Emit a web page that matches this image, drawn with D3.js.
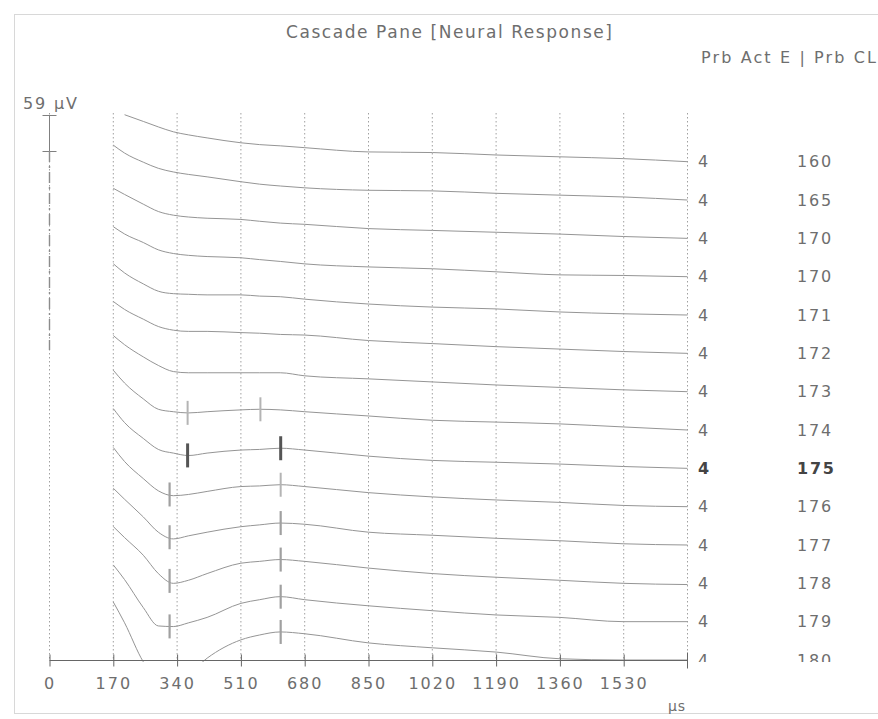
<!DOCTYPE html>
<html><head><meta charset="utf-8">
<script src="https://cdn.jsdelivr.net/npm/d3@7"></script>
<style>
body{margin:0;background:#fff}
svg{display:block}
text{font-family:"DejaVu Sans",sans-serif;fill:#6e6e6e}
</style>
</head><body>
<svg id="chart" width="878" height="719"></svg>
<script>
// ---- data ----
const times = [170,200,250,290,330,370,420,510,560,615,680,850,1020,1190,1360,1530,1700]; // µs
const probeCL   = ["160","165","170","170","171","172","173","174","175","176","177","178","179","180"];
const probeActE = ["4","4","4","4","4","4","4","4","4","4","4","4","4","4"];
const boldRow = 8; // row "175"
// amplitudes in µV at each time (positive = up)
const tr160  = [null,77,66,57,49,44,39,31,28,26,23,16,15,11,8,5,0];
const tr165  = [90,77,62,52,46,42,38,30,26,23,20,16,15,11,8,5,0];
const tr170a = [82,72,56,44,38,35,33,31,28,25,23,16,13,10,7,3,0];
const tr170b = [82,70,56,44,38,35,33,31,28,25,21,16,13,8,3,2,0];
const tr171  = [84,69,51,39,35,34,33,33,31,30,26,18,13,10,5,2,0];
const tr172  = [85,72,56,44,38,36,36,34,33,31,30,21,16,11,7,3,0];
const tr173  = [92,77,57,43,33,31,31,31,31,31,26,21,16,11,7,3,0];
const tr174  = [98,77,51,34,30,28,30,33,34,33,30,23,16,13,10,5,0];
const tr175  = [98,75,49,31,25,21,25,30,31,33,30,20,13,10,7,3,0];
const tr176  = [97,74,46,26,18,20,25,33,34,36,33,23,16,11,7,2,0];
const tr177  = [93,75,46,21,10,15,21,30,33,36,34,21,16,11,7,2,0];
const tr178  = [93,75,46,16,0,5,16,33,36,39,36,25,16,10,5,0,-2];
const tr179  = [93,69,23,-7,-8,-2,7,30,36,41,36,26,18,11,7,0,0];
const tr180  = [95,61,-3,-33,-36,-23,3,33,41,46,43,28,20,13,2,0,0];
const traces = [tr160,tr165,tr170a,tr170b,tr171,tr172,tr173,tr174,tr175,tr176,tr177,tr178,tr179,tr180];
// latency markers
const markerRow  = [7,7,8,8,9,9,10,10,11,11,12,12,13];
const markerTime = [368,562,368,616,320,616,320,616,320,616,320,616,616];
const markerKind = ["light","light","bold","bold","mid","light","mid","mid","mid","mid","mid","mid","mid"];
const tickValues = [0,170,340,510,680,850,1020,1190,1360,1530];
const scaleBarValue = 59; // µV

// ---- scales ----
const x = d3.scaleLinear().domain([0,1700]).range([49.5,687.5]);
const base = d3.scaleLinear().domain([0,13]).range([161.7,660]);
const amp = d3.scaleLinear().domain([0,scaleBarValue]).range([0,36]);

const svg = d3.select("#chart");
svg.append("rect").attr("width",878).attr("height",719).attr("fill","#fff");

// frame
svg.append("rect").attr("x",14.5).attr("y",14.5).attr("width",900).attr("height",699)
  .attr("fill","none").attr("stroke","#b0b0b0").attr("stroke-dasharray","1,1");

// title
svg.append("text").attr("x",286).attr("y",38).attr("font-size",17)
  .attr("textLength",326).attr("lengthAdjust","spacing").text("Cascade Pane [Neural Response]");
svg.append("text").attr("x",701).attr("y",63).attr("font-size",16)
  .attr("textLength",175).attr("lengthAdjust","spacing").text("Prb Act E  | Prb CL");

// gridlines
const gridVals = tickValues.concat([1700]);
svg.append("g").selectAll("line").data(gridVals).join("line")
  .attr("x1",d=>x(d)).attr("x2",d=>x(d)).attr("y1",113).attr("y2",660)
  .attr("stroke","#a0a0a0").attr("stroke-dasharray","1.5,2.5");

// scale bar
const sx = x(0);
const sb = svg.append("g").attr("stroke","#808080");
sb.append("line").attr("x1",sx).attr("x2",sx).attr("y1",115).attr("y2",115+amp(scaleBarValue));
sb.append("line").attr("x1",sx-7).attr("x2",sx+7).attr("y1",115.5).attr("y2",115.5);
sb.append("line").attr("x1",sx-7).attr("x2",sx+7).attr("y1",115.5+amp(scaleBarValue)).attr("y2",115.5+amp(scaleBarValue));
sb.append("line").attr("x1",sx).attr("x2",sx).attr("y1",115+amp(scaleBarValue)).attr("y2",350)
  .attr("stroke","#8c8c8c").attr("stroke-width",1.4).attr("stroke-dasharray","11,4,2,4");
svg.append("text").attr("x",23).attr("y",109).attr("font-size",16)
  .attr("textLength",54).attr("lengthAdjust","spacing").text(scaleBarValue+" µV");

// clip
svg.append("clipPath").attr("id","pane").append("rect").attr("x",0).attr("y",0).attr("width",878).attr("height",662);
const pane = svg.append("g").attr("clip-path","url(#pane)");

const line = d3.line().defined(d=>d[1]!==null).x(d=>x(d[0])).y(d=>d[2]-amp(d[1])).curve(d3.curveMonotoneX);
traces.forEach((tr,i)=>{
  const pts = times.map((t,k)=>[t,tr[k],base(i)]);
  pane.append("path").attr("d",line(pts)).attr("fill","none")
    .attr("stroke","#959595").attr("stroke-width",1);
});

function valAt(tr,t){
  for(let k=0;k<times.length-1;k++){
    if(t>=times[k]&&t<=times[k+1]){
      const a=tr[k]??tr[k+1], b=tr[k+1];
      return a+(b-a)*(t-times[k])/(times[k+1]-times[k]);
    }
  }
  return 0;
}
const mStyle={light:["#b4b4b4",2],mid:["#a0a0a0",2.2],bold:["#555",3]};
markerRow.forEach((r,j)=>{
  const cx=x(markerTime[j]), cy=base(r)-amp(valAt(traces[r],markerTime[j]));
  pane.append("line").attr("x1",cx).attr("x2",cx).attr("y1",cy-12).attr("y2",cy+12)
    .attr("stroke",mStyle[markerKind[j]][0]).attr("stroke-width",mStyle[markerKind[j]][1]);
});

// right labels
probeActE.forEach((v,i)=>{
  pane.append("text").attr("x",698).attr("y",base(i)).attr("dy","0.36em").attr("font-size",16)
    .attr("font-weight",i===boldRow?"bold":null).style("fill",i===boldRow?"#444":null).text(v);
});
probeCL.forEach((v,i)=>{
  pane.append("text").attr("x",797).attr("y",base(i)).attr("dy","0.36em").attr("font-size",16)
    .attr("letter-spacing",1.8).attr("font-weight",i===boldRow?"bold":null).style("fill",i===boldRow?"#444":null).text(v);
});

// axis
const axis = d3.axisBottom(x).tickValues(tickValues).tickFormat(d3.format("d")).tickSizeOuter(0).tickSize(6).tickPadding(0);
const ag = svg.append("g").attr("transform","translate(0,660.5)").call(axis);
ag.select(".domain").attr("d",`M${x(0)},0H${x(1700)}`).attr("stroke","#666");
ag.selectAll(".tick line").attr("y1",-6).attr("y2",6).attr("stroke","#666");
ag.selectAll(".tick text").attr("y",17).attr("font-size",16).attr("letter-spacing",2)
  .attr("font-family","DejaVu Sans").style("fill","#6e6e6e");
ag.append("line").attr("x1",x(1700)).attr("x2",x(1700)).attr("y1",-8).attr("y2",8).attr("stroke","#666");
svg.append("text").attr("x",677).attr("y",711).attr("text-anchor","middle").attr("font-size",14)
  .attr("letter-spacing",1).text("µs");
</script>
</body></html>
